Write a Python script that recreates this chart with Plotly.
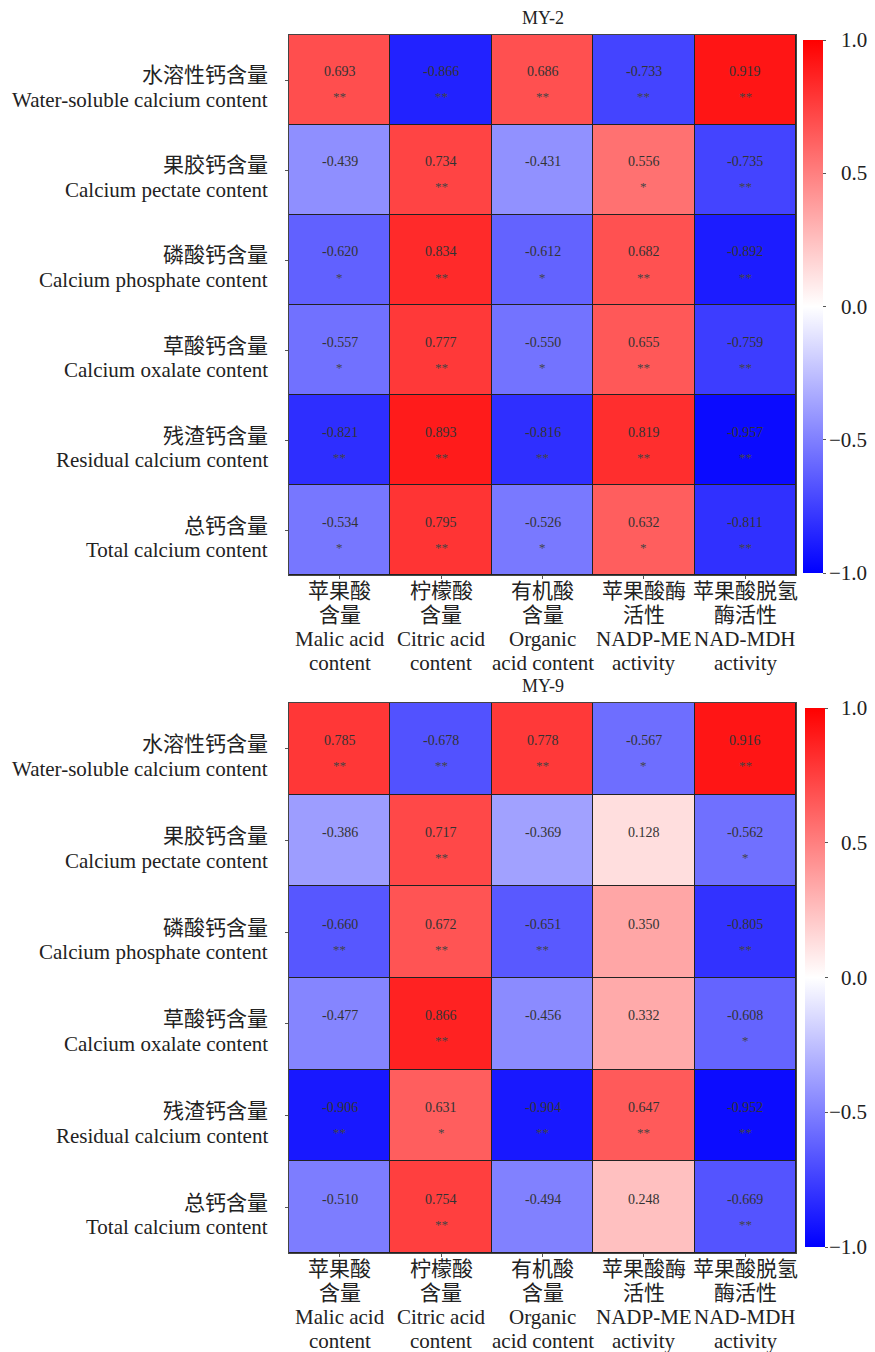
import plotly.graph_objects as go

rows_cn = ["水溶性钙含量", "果胶钙含量", "磷酸钙含量", "草酸钙含量", "残渣钙含量", "总钙含量"]
rows_en = ["Water-soluble calcium content", "Calcium pectate content", "Calcium phosphate content",
           "Calcium oxalate content", "Residual calcium content", "Total calcium content"]
cols_lines = [
    ["苹果酸", "含量", "Malic acid", "content"],
    ["柠檬酸", "含量", "Citric acid", "content"],
    ["有机酸", "含量", "Organic", "acid content"],
    ["苹果酸酶", "活性", "NADP-ME", "activity"],
    ["苹果酸脱氢", "酶活性", "NAD-MDH", "activity"],
]

my2_vals = [
    [0.693, -0.866, 0.686, -0.733, 0.919],
    [-0.439, 0.734, -0.431, 0.556, -0.735],
    [-0.620, 0.834, -0.612, 0.682, -0.892],
    [-0.557, 0.777, -0.550, 0.655, -0.759],
    [-0.821, 0.893, -0.816, 0.819, -0.957],
    [-0.534, 0.795, -0.526, 0.632, -0.811],
]
my2_sig = [
    ["**", "**", "**", "**", "**"],
    ["", "**", "", "*", "**"],
    ["*", "**", "*", "**", "**"],
    ["*", "**", "*", "**", "**"],
    ["**", "**", "**", "**", "**"],
    ["*", "**", "*", "*", "**"],
]
my9_vals = [
    [0.785, -0.678, 0.778, -0.567, 0.916],
    [-0.386, 0.717, -0.369, 0.128, -0.562],
    [-0.660, 0.672, -0.651, 0.350, -0.805],
    [-0.477, 0.866, -0.456, 0.332, -0.608],
    [-0.906, 0.631, -0.904, 0.647, -0.952],
    [-0.510, 0.754, -0.494, 0.248, -0.669],
]
my9_sig = [
    ["**", "**", "**", "*", "**"],
    ["", "**", "", "", "*"],
    ["**", "**", "**", "", "**"],
    ["", "**", "", "", "*"],
    ["**", "*", "**", "**", "**"],
    ["", "**", "", "", "**"],
]
titles = ["MY-2", "MY-9"]
cb_ticks = [-1.0, -0.5, 0.0, 0.5, 1.0]

FONT = "Liberation Serif, Times New Roman, Noto Sans CJK SC, serif"
OFF = 8  # page body margin
W, H = 875 - OFF, 1352 - OFF
bwr = [[0, "rgb(0,0,255)"], [0.5, "rgb(255,255,255)"], [1, "rgb(255,0,0)"]]
LBL = 21
TXT = "#222"

nr, nc = len(rows_cn), len(cols_lines)
xi = list(range(nc))
yi = list(range(nr))


def px_x(p):
    return (p - OFF) / W


def px_y(p):
    return 1 - (p - OFF) / H


# pixel layout (top, bottom) of each heatmap and colorbar, in window pixels
hm_px = [(35, 575), (703, 1253)]
cb_px = [(40, 573, 803), (708, 1247, 805)]
x_px = (289, 796)

fig = go.Figure()
annotations = []
for k, (vals, sig) in enumerate([(my2_vals, my2_sig), (my9_vals, my9_sig)]):
    sx = "" if k == 0 else "2"
    t, b, cx = cb_px[k]
    fig.add_trace(go.Heatmap(
        z=vals, x=xi, y=yi, zmin=-1, zmax=1, colorscale=bwr,
        xgap=1, ygap=1, xaxis="x" + sx, yaxis="y" + sx, hoverinfo="skip",
        colorbar=dict(
            x=px_x(cx), xanchor="left", y=px_y((t + b) / 2), yanchor="middle",
            len=b - t, lenmode="pixels", thickness=20, outlinewidth=0, xpad=0, ypad=0,
            tickvals=cb_ticks, showticklabels=False,
            ticks="outside", ticklen=3, tickcolor="#555",
        ),
    ))
    # colorbar tick labels, right-aligned
    for v in cb_ticks:
        ypx = b - (v + 1) / 2 * (b - t)
        annotations.append(dict(
            x=px_x(869), y=px_y(ypx), xref="paper", yref="paper", xanchor="right",
            yanchor="middle", text=f"{v:.1f}".replace("-", "\u2212"), showarrow=False,
            font=dict(family=FONT, size=LBL, color=TXT)))
    for i in range(nr):
        for j in range(nc):
            annotations.append(dict(
                x=j, y=i, xref="x" + sx, yref="y" + sx, text=f"{vals[i][j]:.3f}",
                showarrow=False, yshift=8, font=dict(family=FONT, size=14, color="#333")))
            if sig[i][j]:
                annotations.append(dict(
                    x=j, y=i, xref="x" + sx, yref="y" + sx, text=sig[i][j],
                    showarrow=False, yshift=-17, font=dict(family=FONT, size=13, color="#444")))
        for line, dy in ((rows_cn[i], 4.5), (rows_en[i], -20)):
            annotations.append(dict(
                x=px_x(270), y=i, xref="paper", yref="y" + sx, xanchor="right",
                yanchor="middle", text=line, showarrow=False, yshift=dy,
                font=dict(family=FONT, size=LBL, color=TXT)))
    for j in range(nc):
        for n, line in enumerate(cols_lines[j]):
            annotations.append(dict(
                x=j, y=px_y(hm_px[k][1] + 16 + 24 * n), xref="x" + sx, yref="paper",
                xanchor="center", yanchor="middle", text=line, showarrow=False,
                font=dict(family=FONT, size=LBL, color=TXT)))
    annotations.append(dict(
        x=px_x((x_px[0] + x_px[1]) / 2), y=px_y(hm_px[k][0] - 17), xref="paper", yref="paper",
        xanchor="center", yanchor="middle",
        text=titles[k], showarrow=False, font=dict(family=FONT, size=18, color=TXT)))

    ax = dict(domain=[px_x(x_px[0]), px_x(x_px[1])], tickvals=xi, showticklabels=False,
              ticks="outside", ticklen=3,
              tickcolor="#555", showline=True, linecolor="#444", linewidth=1, mirror=True,
              showgrid=False, zeroline=False, range=[-0.5, nc - 0.5], anchor="y" + sx,
              automargin=False)
    ay = dict(domain=[px_y(hm_px[k][1]), px_y(hm_px[k][0])], tickvals=yi, showticklabels=False,
              ticks="outside", ticklen=3,
              tickcolor="#555", showline=True, linecolor="#444", linewidth=1, mirror=True,
              showgrid=False, zeroline=False, range=[nr - 0.5, -0.5], anchor="x" + sx,
              automargin=False)
    fig.update_layout(**{"xaxis" + sx: ax, "yaxis" + sx: ay})

fig.update_layout(
    width=W, height=H, margin=dict(l=0, r=0, t=0, b=0, pad=0, autoexpand=False),
    plot_bgcolor="#222", paper_bgcolor="white",
    annotations=annotations, font=dict(family=FONT),
)
fig.write_html("out.html")
